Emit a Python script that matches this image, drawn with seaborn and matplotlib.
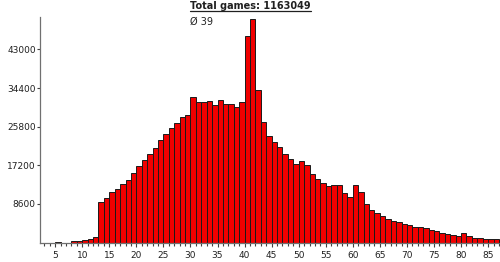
import numpy as np
import pandas as pd
import matplotlib
matplotlib.use("Agg")
import matplotlib.pyplot as plt
from matplotlib.ticker import FixedLocator, MultipleLocator
from matplotlib.lines import Line2D
import seaborn as sns

# ---- data ----
scores = [5, 8, 9, 10, 11, 12,
          13, 14, 15, 16, 17, 18, 19, 20, 21, 22, 23, 24, 25,
          26, 27, 28, 29, 30, 31, 32, 33, 34, 35, 36, 37, 38, 39, 40, 41, 42, 43,
          44, 45, 46, 47, 48, 49, 50, 51, 52, 53, 54, 55, 56, 57, 58, 59, 60, 61,
          62, 63, 64, 65, 66, 67, 68, 69, 70, 71, 72, 73, 74, 75, 76, 77, 78, 79,
          80, 81, 82, 83, 84, 85, 86]
games = [150, 250, 400, 530, 820, 1260,
         8980, 9930, 11270, 11930, 12980, 14000, 15420, 16980, 18310, 19710, 21110, 22750, 24150,
         25550, 26530, 27930, 28440, 32300, 31200, 31200, 31420, 30670, 31640, 30890, 30750, 30220, 31200, 45930, 49860, 33930, 26820,
         23640, 22380, 21330, 19780, 18670, 17490, 18220, 17200, 15270, 14220, 13330, 12530, 12890, 12890, 11040, 10150, 12890, 11200,
         8530, 7330, 6530, 5870, 5270, 4820, 4600, 4090, 3860, 3420, 3420, 3200, 2820, 2600, 2150, 1870, 1640, 1490,
         2090, 1560, 1040, 1040, 890, 760, 760]
y_ticks = [8600, 17200, 25800, 34400, 43000]
x_major = [5, 10, 15, 20, 25, 30, 35, 40, 45, 50, 55, 60, 65, 70, 75, 80, 85]
title_text = "Total games: 1163049"
mean_text = "\u00d8 39"

df = pd.DataFrame({"score": [float(s) + 0.5 for s in scores], "games": games})

sns.set_style("white")
plt.rcParams["font.family"] = ["DejaVu Sans"]

fig = plt.figure(figsize=(5.0, 2.62), dpi=100)
ax = fig.add_axes([0.08, 0.074, 0.92, 0.861])

sns.histplot(data=df, x="score", weights="games", binwidth=1, binrange=(3, 87),
             color="#f00000", edgecolor="#1a1a1a", linewidth=0.7, alpha=1.0, ax=ax)

ax.set_xlim(2.2, 87.2)
ax.set_ylim(0, 50200)
ax.set_xlabel("")
ax.set_ylabel("")

ax.xaxis.set_major_locator(FixedLocator(x_major))
ax.xaxis.set_minor_locator(MultipleLocator(1))
ax.yaxis.set_major_locator(FixedLocator(y_ticks))
ax.set_yticklabels([str(v) for v in y_ticks])
ax.set_xticklabels([str(v) for v in x_major])

for s in ["top", "right"]:
    ax.spines[s].set_visible(False)
for s in ["left", "bottom"]:
    ax.spines[s].set_color("#707070")
    ax.spines[s].set_linewidth(0.9)

ax.tick_params(axis="x", which="major", direction="out", length=3, width=0.8,
               color="#404040", labelsize=6.5, labelcolor="#202020", pad=3, bottom=True)
ax.tick_params(axis="x", which="minor", direction="out", length=1.8, width=0.8,
               color="#404040", bottom=True)
ax.tick_params(axis="y", which="major", direction="out", length=2.5, width=0.8,
               color="#404040", labelsize=6.5, labelcolor="#202020", pad=0.5, left=True)

t = fig.text(0.38, 0.995, title_text, ha="left", va="top", fontsize=7,
             fontweight="bold", color="#202020")
fig.text(0.38, 0.935, mean_text, ha="left", va="top", fontsize=7, color="#202020")

# underline the title
fig.canvas.draw()
bb = t.get_window_extent(renderer=fig.canvas.get_renderer())
inv = fig.transFigure.inverted()
(x0, y0), (x1, y1) = inv.transform([(bb.x0, bb.y0), (bb.x1, bb.y1)])
fig.add_artist(Line2D([x0, x1], [y0 + 0.002, y0 + 0.002], transform=fig.transFigure,
                      color="#202020", linewidth=0.9))

fig.savefig("out.png", dpi=100)
